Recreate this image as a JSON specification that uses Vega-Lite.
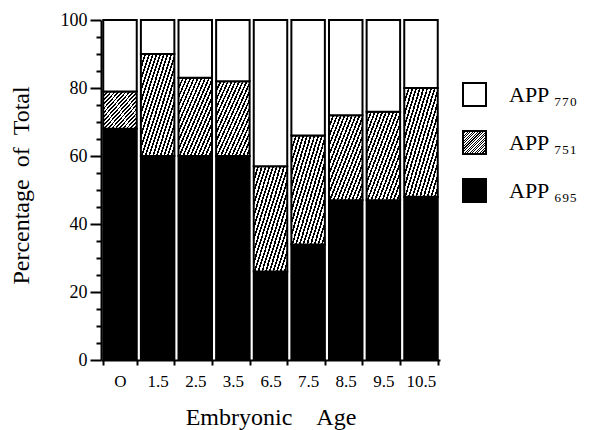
{
  "$schema": "https://vega.github.io/schema/vega-lite/v6.json",
  "autosize": "none",
  "width": 339,
  "height": 340,
  "padding": {"left": 101, "top": 20, "right": 159, "bottom": 70},
  "background": "white",
  "config": {
    "view": {"stroke": null},
    "font": "Liberation Serif"
  },
  "data": {
    "values": [
      {"age": "O", "isoform": "695", "pct": 68},
      {"age": "O", "isoform": "751", "pct": 11},
      {"age": "O", "isoform": "770", "pct": 21},
      {"age": "1.5", "isoform": "695", "pct": 60},
      {"age": "1.5", "isoform": "751", "pct": 30},
      {"age": "1.5", "isoform": "770", "pct": 10},
      {"age": "2.5", "isoform": "695", "pct": 60},
      {"age": "2.5", "isoform": "751", "pct": 23},
      {"age": "2.5", "isoform": "770", "pct": 17},
      {"age": "3.5", "isoform": "695", "pct": 60},
      {"age": "3.5", "isoform": "751", "pct": 22},
      {"age": "3.5", "isoform": "770", "pct": 18},
      {"age": "6.5", "isoform": "695", "pct": 26},
      {"age": "6.5", "isoform": "751", "pct": 31},
      {"age": "6.5", "isoform": "770", "pct": 43},
      {"age": "7.5", "isoform": "695", "pct": 34},
      {"age": "7.5", "isoform": "751", "pct": 32},
      {"age": "7.5", "isoform": "770", "pct": 34},
      {"age": "8.5", "isoform": "695", "pct": 47},
      {"age": "8.5", "isoform": "751", "pct": 25},
      {"age": "8.5", "isoform": "770", "pct": 28},
      {"age": "9.5", "isoform": "695", "pct": 47},
      {"age": "9.5", "isoform": "751", "pct": 26},
      {"age": "9.5", "isoform": "770", "pct": 27},
      {"age": "10.5", "isoform": "695", "pct": 48},
      {"age": "10.5", "isoform": "751", "pct": 32},
      {"age": "10.5", "isoform": "770", "pct": 20}
    ]
  },
  "mark": {"type": "bar", "stroke": "black", "strokeWidth": 2, "strokeJoin": "miter"},
  "encoding": {
    "x": {
      "field": "age",
      "type": "nominal",
      "sort": null,
      "scale": {"paddingInner": 0.11, "paddingOuter": 0.06},
      "axis": {
        "title": "Embryonic\u00a0\u00a0\u00a0\u00a0Age",
        "titleFont": "Liberation Serif",
        "titleFontSize": 24,
        "titleFontWeight": "normal",
        "titlePadding": 16,
        "labelAngle": 0,
        "labelFont": "Liberation Serif",
        "labelFontSize": 17,
        "labelColor": "black",
        "labelPadding": 8,
        "tickBand": "extent",
        "tickSize": 5,
        "tickWidth": 2,
        "tickColor": "black",
        "domainColor": "black",
        "domainWidth": 2,
        "grid": false
      }
    },
    "y": {
      "field": "pct",
      "type": "quantitative",
      "stack": "zero",
      "scale": {"domain": [0, 100], "nice": false},
      "axis": {
        "title": "Percentage\u00a0\u00a0of\u00a0\u00a0Total",
        "titleFont": "Liberation Serif",
        "titleFontSize": 24,
        "titleFontWeight": "normal",
        "titleX": -80,
        "titleY": 165,
        "titleBaseline": "middle",
        "titleAlign": "center",
        "values": [0, 5, 10, 15, 20, 25, 30, 35, 40, 45, 50, 55, 60, 65, 70, 75, 80, 85, 90, 95, 100],
        "labelExpr": "datum.value % 20 === 0 ? datum.label : ''",
        "labelFont": "Liberation Serif",
        "labelFontSize": 18,
        "labelColor": "black",
        "labelPadding": 3,
        "tickSize": {"condition": {"test": "datum.value % 20 === 0", "value": 11}, "value": 5},
        "tickWidth": 2,
        "tickColor": "black",
        "domainColor": "black",
        "domainWidth": 2,
        "grid": false
      }
    },
    "fill": {
      "field": "isoform",
      "type": "nominal",
      "scale": {
        "domain": ["770", "751", "695"],
        "range": ["white", "url(#gradient_0) #808080", "black"]
      },
      "condition": {
        "test": "datum.isoform === '751'",
        "value": {"gradient": "linear", "x1": 0, "y1": 0, "x2": 1, "y2": 1, "stops": [
            {"offset": 0, "color": "black"}, {"offset": 0.025, "color": "black"}, {"offset": 0.025, "color": "white"}, {"offset": 0.0556, "color": "white"},
            {"offset": 0.0556, "color": "black"}, {"offset": 0.0806, "color": "black"}, {"offset": 0.0806, "color": "white"}, {"offset": 0.1111, "color": "white"},
            {"offset": 0.1111, "color": "black"}, {"offset": 0.1361, "color": "black"}, {"offset": 0.1361, "color": "white"}, {"offset": 0.1667, "color": "white"},
            {"offset": 0.1667, "color": "black"}, {"offset": 0.1917, "color": "black"}, {"offset": 0.1917, "color": "white"}, {"offset": 0.2222, "color": "white"},
            {"offset": 0.2222, "color": "black"}, {"offset": 0.2472, "color": "black"}, {"offset": 0.2472, "color": "white"}, {"offset": 0.2778, "color": "white"},
            {"offset": 0.2778, "color": "black"}, {"offset": 0.3028, "color": "black"}, {"offset": 0.3028, "color": "white"}, {"offset": 0.3333, "color": "white"},
            {"offset": 0.3333, "color": "black"}, {"offset": 0.3583, "color": "black"}, {"offset": 0.3583, "color": "white"}, {"offset": 0.3889, "color": "white"},
            {"offset": 0.3889, "color": "black"}, {"offset": 0.4139, "color": "black"}, {"offset": 0.4139, "color": "white"}, {"offset": 0.4444, "color": "white"},
            {"offset": 0.4444, "color": "black"}, {"offset": 0.4694, "color": "black"}, {"offset": 0.4694, "color": "white"}, {"offset": 0.5, "color": "white"},
            {"offset": 0.5, "color": "black"}, {"offset": 0.525, "color": "black"}, {"offset": 0.525, "color": "white"}, {"offset": 0.5556, "color": "white"},
            {"offset": 0.5556, "color": "black"}, {"offset": 0.5806, "color": "black"}, {"offset": 0.5806, "color": "white"}, {"offset": 0.6111, "color": "white"},
            {"offset": 0.6111, "color": "black"}, {"offset": 0.6361, "color": "black"}, {"offset": 0.6361, "color": "white"}, {"offset": 0.6667, "color": "white"},
            {"offset": 0.6667, "color": "black"}, {"offset": 0.6917, "color": "black"}, {"offset": 0.6917, "color": "white"}, {"offset": 0.7222, "color": "white"},
            {"offset": 0.7222, "color": "black"}, {"offset": 0.7472, "color": "black"}, {"offset": 0.7472, "color": "white"}, {"offset": 0.7778, "color": "white"},
            {"offset": 0.7778, "color": "black"}, {"offset": 0.8028, "color": "black"}, {"offset": 0.8028, "color": "white"}, {"offset": 0.8333, "color": "white"},
            {"offset": 0.8333, "color": "black"}, {"offset": 0.8583, "color": "black"}, {"offset": 0.8583, "color": "white"}, {"offset": 0.8889, "color": "white"},
            {"offset": 0.8889, "color": "black"}, {"offset": 0.9139, "color": "black"}, {"offset": 0.9139, "color": "white"}, {"offset": 0.9444, "color": "white"},
            {"offset": 0.9444, "color": "black"}, {"offset": 0.9694, "color": "black"}, {"offset": 0.9694, "color": "white"}, {"offset": 1, "color": "white"}
          ]}
      },
      "legend": {
        "title": null,
        "orient": "none",
        "legendX": 361,
        "legendY": 62,
        "symbolType": "square",
        "symbolSize": 529,
        "symbolStrokeColor": "black",
        "symbolStrokeWidth": 2,
        "symbolOpacity": 1,
        "rowPadding": 17,
        "labelFont": "Liberation Serif",
        "labelFontSize": 22,
        "labelColor": "black",
        "labelOffset": 22,
        "labelLimit": 200,
        "labelExpr": "datum.label === '770' ? 'APP \u2087\u2087\u2080' : datum.label === '751' ? 'APP \u2087\u2085\u2081' : 'APP \u2086\u2089\u2085'"
      }
    },
    "order": {"field": "isoform", "sort": "ascending"}
  }
}
